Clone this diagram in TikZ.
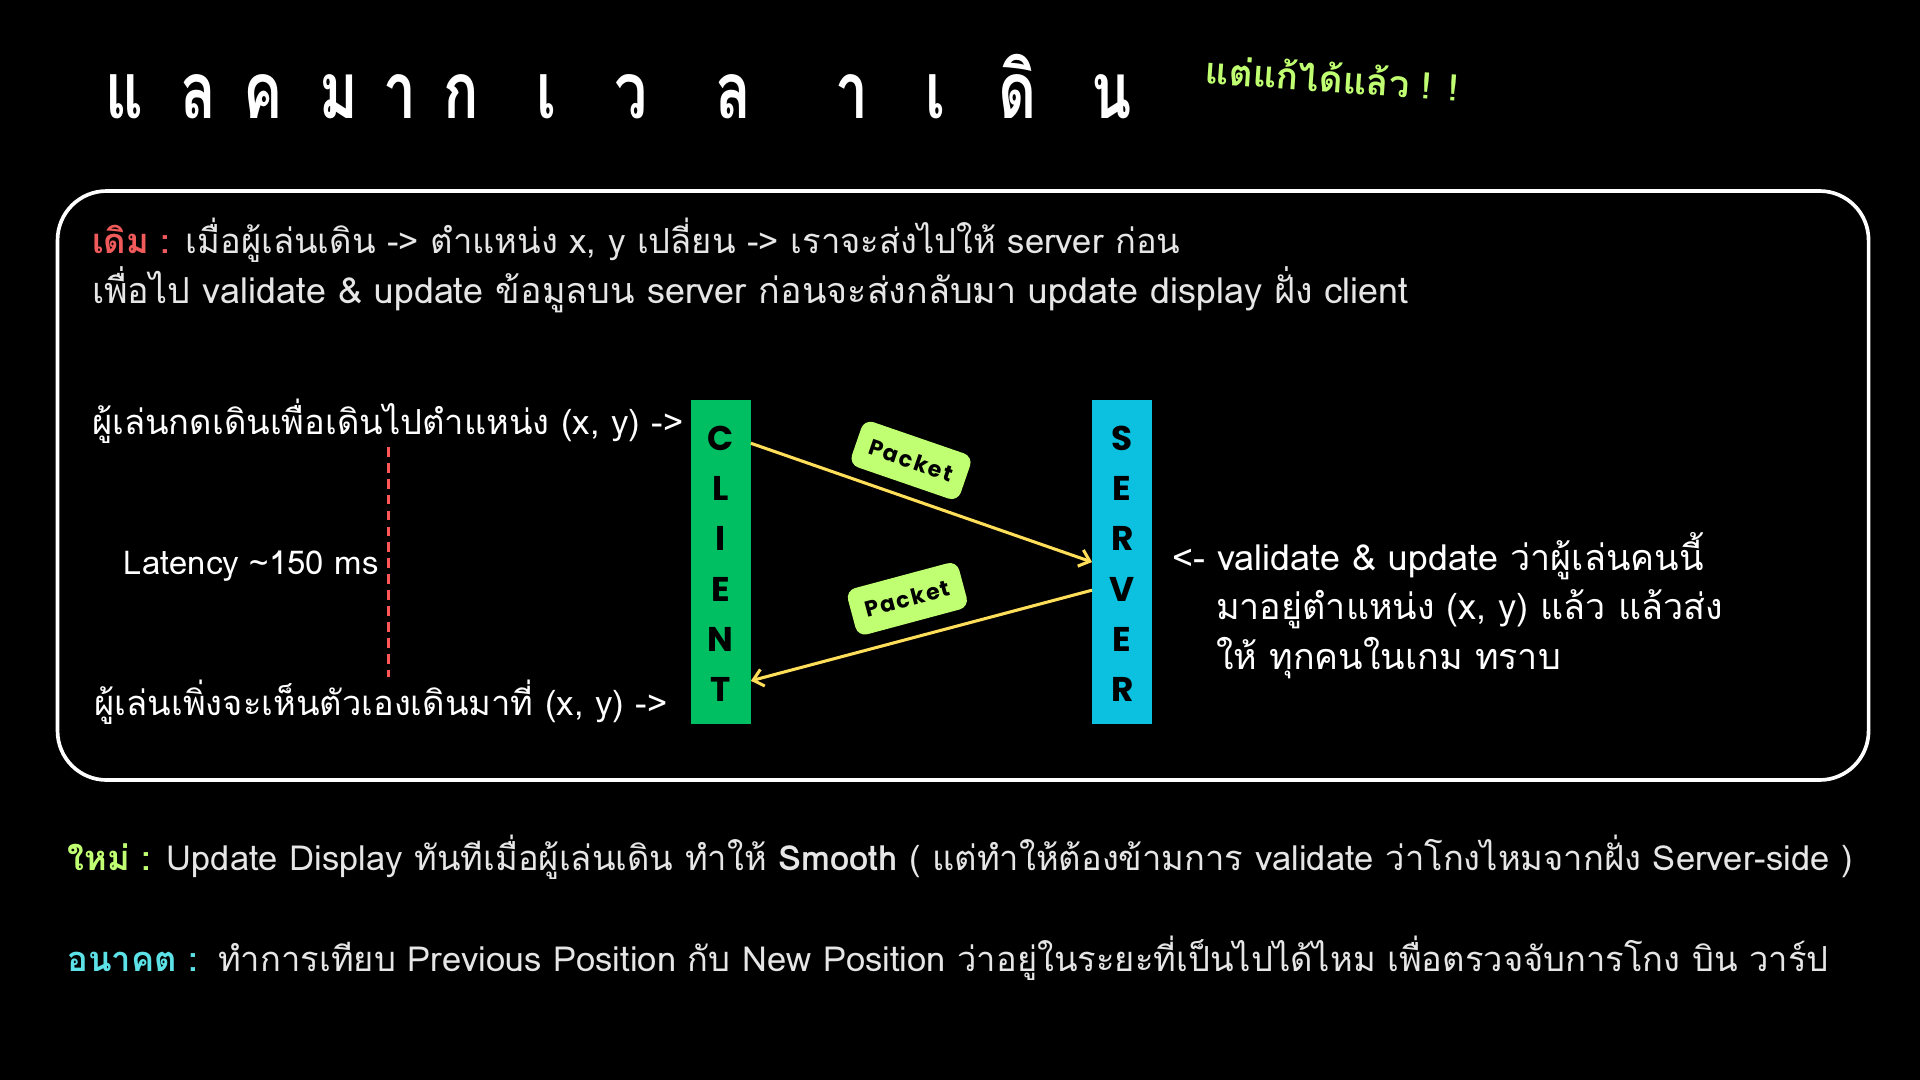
\documentclass[tikz,border=0pt]{standalone}
\usepackage{fontspec}
\setmainfont{Loma}[Script=Thai]
\newfontfamily\titlefont{Loma}[Script=Thai, FakeStretch=0.75]
\newfontfamily\packetfont{Poppins}
\newfontfamily\packetwide{Poppins}[LetterSpace = 8]
\usetikzlibrary{arrows.meta}

\definecolor{bodygray}{HTML}{E6E6E6}
\definecolor{oldred}{HTML}{F05A5A}
\definecolor{newgreen}{HTML}{C1FF72}
\definecolor{futurecyan}{HTML}{5CE1E6}
\definecolor{clientgreen}{HTML}{00BF63}
\definecolor{servercyan}{HTML}{0CC0DF}
\definecolor{arrowyellow}{HTML}{FFDE59}
\definecolor{latred}{HTML}{FF5757}

\begin{document}
\begin{tikzpicture}[
    x = 1pt, y = -1pt,
    titlechar/.style = {
        anchor = base,
        text = white,
        inner sep = 0pt,
        font = \titlefont\fontsize{64}{64}\selectfont\bfseries
    },
    body/.style = {
        anchor = base west,
        inner sep = 0pt,
        text = bodygray,
        font = \fontsize{28.2}{28}\selectfont
    },
    wide/.style = {font = \fontsize{29.3}{29}\selectfont},
    label/.style = {body, text = white},
    bar/.style = {
        rectangle,
        minimum width = 49pt,
        minimum height = 264pt,
        inner sep = 0pt
    },
    barchar/.style = {
        text = black,
        inner sep = 0pt,
        font = \packetfont\fontsize{28}{28}\selectfont\bfseries
    },
    packet/.style = {
        rectangle,
        rounded corners = 8pt,
        fill = newgreen,
        minimum width = 94pt,
        minimum height = 39pt,
        font = \packetwide\fontsize{18}{18}\selectfont\bfseries
    },
    arrow/.style = {
        -{Straight Barb[length = 8pt, width = 14pt, line width = 2.5pt]},
        draw = arrowyellow,
        line width = 2.5pt
    },
    latency/.style = {draw = latred, line width = 2.5pt, dash pattern = on 8pt off 5pt}
]

% Background and frame
\fill[black] (0, 0) rectangle (1568, 882);
\useasboundingbox (0, 0) rectangle (1568, 882);

% Title
\foreach \x/\c [count = \i] in {102/แ, 162/ล, 215/ค, 277/ม, 327/า, 377/ก, 446/เ, 515/ว, 599/ล, 696/า, 764/เ, 831/ดิ, 908/น}
    \node[titlechar] (title\i) at (\x, 97) {\c};

\node[rotate = -4, text = newgreen, inner sep = 0pt,
      font = \fontsize{30}{30}\selectfont\bfseries] (fixed) at (1088, 63) {แต่แก้ได้แล้ว ! !};

% Old flow panel
\draw[white, line width = 3pt, rounded corners = 40pt] (47, 156) rectangle (1526, 637);

\node[body] (old1) at (75, 207) {{\color{oldred}\bfseries เดิม :} เมื่อผู้เล่นเดิน -> ตำแหน่ง x, y เปลี่ยน -> เราจะส่งไปให้ server ก่อน};
\node[body, wide] (old2) at (75, 248) {เพื่อไป validate \& update ข้อมูลบน server ก่อนจะส่งกลับมา update display ฝั่ง client};

% Player side
\node[label] (press) at (75, 355) {ผู้เล่นกดเดินเพื่อเดินไปตำแหน่ง (x, y) ->};
\node[label] (seen) at (77, 584) {ผู้เล่นเพิ่งจะเห็นตัวเองเดินมาที่ (x, y) ->};
\node[label, font = \fontsize{26.8}{27}\selectfont] (lat) at (101, 469) {Latency \textasciitilde150 ms};

\coordinate (latTop) at (317, 365);
\coordinate (latBot) at (317, 553);
\draw[latency] (latTop) -- (latBot);

% Client and server
\node[bar, fill = clientgreen] (client) at (588.5, 459) {};
\node[bar, fill = servercyan] (server) at (916.5, 459) {};

\foreach \c [count = \i] in {C, L, I, E, N, T}
    \node[barchar] (cl\i) at (588.5, 317 + 41 * \i) {\c};
\foreach \c [count = \i] in {S, E, R, V, E, R}
    \node[barchar] (sv\i) at (916.5, 317 + 41 * \i) {\c};

% Packets
\draw[arrow] ([yshift = 97pt]client.east) -- (server.west);
\draw[arrow] ([yshift = -23pt]server.west) -- ([yshift = -97pt]client.east);

\node[packet, rotate = -19] (pkt1) at (744, 376) {Packet};
\node[packet, rotate = 15] (pkt2) at (741, 489) {Packet};

% Server note
\node[label, wide] (note1) at (957, 466) {<- validate \& update ว่าผู้เล่นคนนี้};
\node[label, wide] (note2) at (993, 506) {มาอยู่ตำแหน่ง (x, y) แล้ว แล้วส่ง};
\node[label, wide] (note3) at (993, 547) {ให้ ทุกคนในเกม ทราบ};

% New and future
\node[body] (new) at (55, 711) {{\color{newgreen}\bfseries ใหม่ :} Update Display ทันทีเมื่อผู้เล่นเดิน ทำให้ \textbf{Smooth} ( แต่ทำให้ต้องข้ามการ validate ว่าโกงไหมจากฝั่ง Server-side )};
\node[body, text = futurecyan, font = \fontsize{28.2}{28}\selectfont\bfseries] (futurehead) at (55, 793) {อนาคต :};
\node[body] (future) at (178, 793) {ทำการเทียบ Previous Position กับ New Position ว่าอยู่ในระยะที่เป็นไปได้ไหม เพื่อตรวจจับการโกง บิน วาร์ป};

\end{tikzpicture}
\end{document}
